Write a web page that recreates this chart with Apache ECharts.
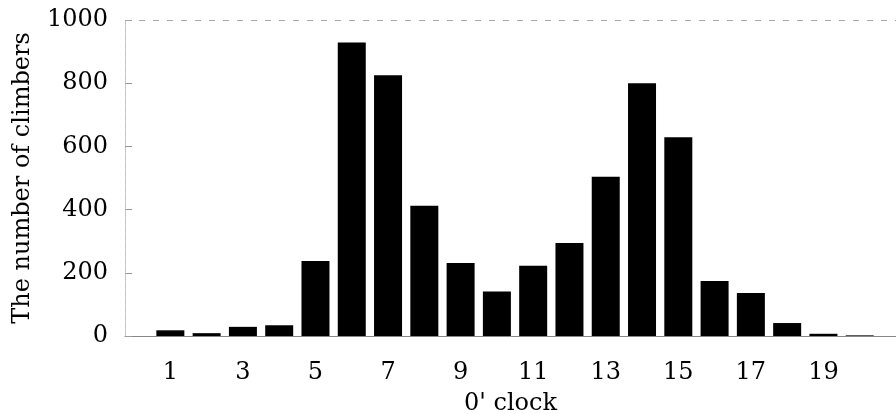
<!DOCTYPE html>
<html>
<head>
<meta charset="utf-8">
<script src="https://cdn.jsdelivr.net/npm/echarts@6/dist/echarts.min.js"></script>
<style>html,body{margin:0;padding:0;background:#fff}#c{width:896px;height:414px}</style>
</head>
<body>
<div id="c"></div>
<script>
const hours = [1,2,3,4,5,6,7,8,9,10,11,12,13,14,15,16,17,18,19,20];
const climbers = [18,9,29,34,237,929,825,412,231,141,222,294,504,800,629,174,136,41,7,2];
const xTickLabels = [1,3,5,7,9,11,13,15,17,19];
const yTicks = [0,200,400,600,800,1000];

const font = '"DejaVu Serif", "Liberation Serif", serif';
const chart = echarts.init(document.getElementById('c'));
chart.setOption({
  animation: false,
  grid: {left: 125, right: 0, top: 20, bottom: 78, outerBoundsMode: 'none', containLabel: false},
  xAxis: {
    type: 'value',
    min: -0.25,
    max: 21,
    name: "0' clock",
    nameLocation: 'middle',
    nameGap: 56,
    nameTextStyle: {fontFamily: font, fontSize: 24, color: '#000'},
    axisLine: {show: true, onZero: false, lineStyle: {color: '#888', width: 1}},
    axisTick: {show: false},
    splitLine: {show: false},
    axisLabel: {
      customValues: xTickLabels,
      margin: 25,
      fontFamily: font, fontSize: 24, color: '#000'
    }
  },
  yAxis: {
    type: 'value',
    min: yTicks[0],
    max: yTicks[yTicks.length-1],
    interval: 200,
    name: 'The number of climbers',
    nameLocation: 'middle',
    nameGap: 90,
    nameTextStyle: {fontFamily: font, fontSize: 24, color: '#000'},
    axisLine: {show: true, onZero: false, lineStyle: {color: '#bbb', width: 1, type: 'dotted'}},
    axisTick: {show: true, inside: true, length: 7, lineStyle: {color: '#999'}},
    splitLine: {show: false},
    axisLabel: {margin: 17, fontFamily: font, fontSize: 24, color: '#000', formatter: v => String(v)}
  },
  series: [{
    type: 'bar',
    data: hours.map((h, i) => [h, climbers[i]]),
    barWidth: 28,
    itemStyle: {color: '#000'},
    markLine: {
      silent: true,
      symbol: 'none',
      label: {show: false},
      lineStyle: {color: '#aaa', type: [6, 8], width: 1},
      data: [{yAxis: 1000}]
    }
  }]
});
</script>
</body>
</html>
